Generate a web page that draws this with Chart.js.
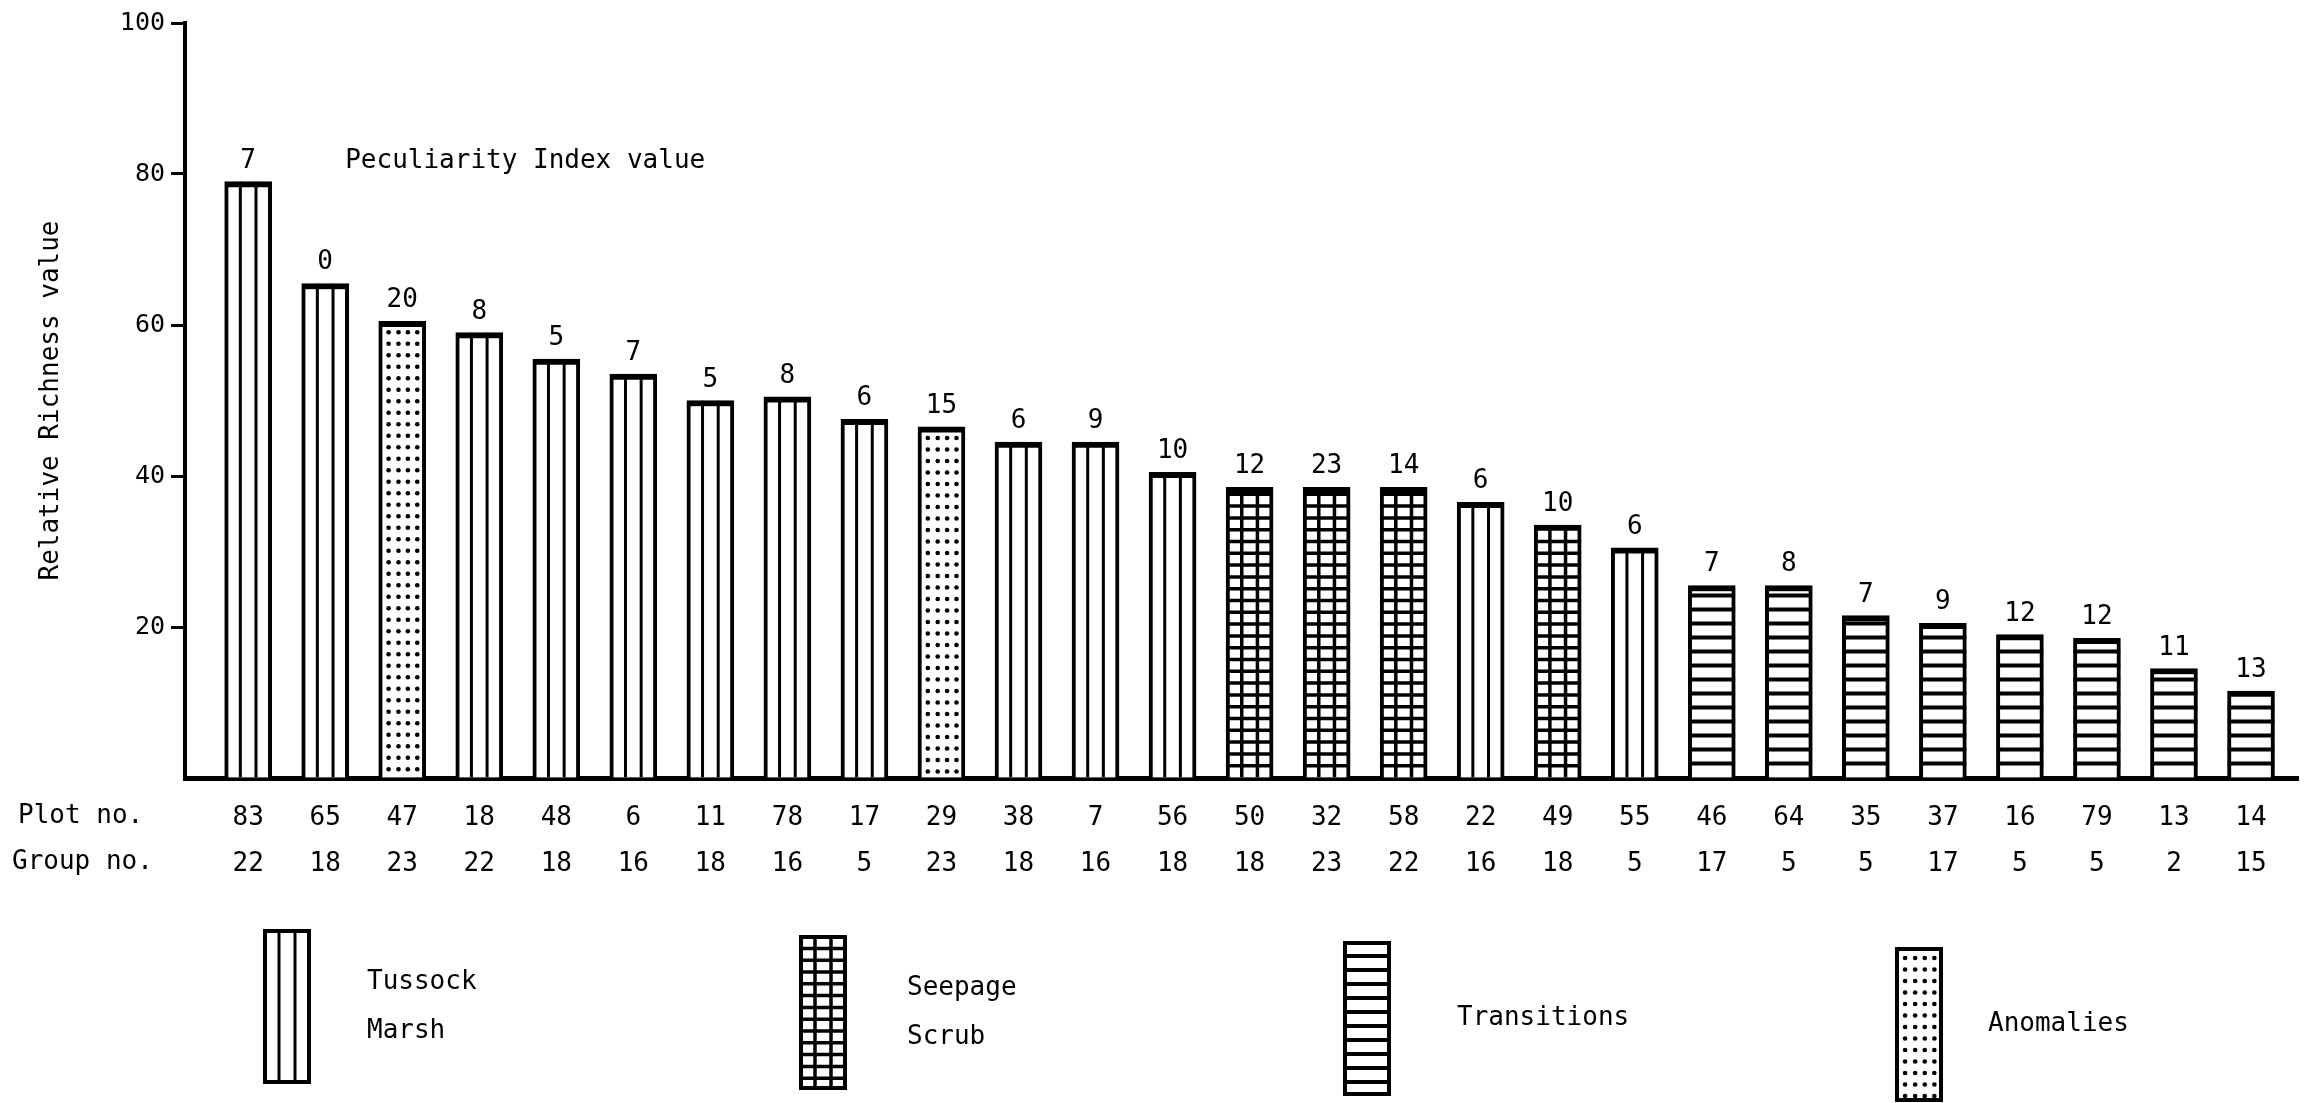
<!DOCTYPE html>
<html>
<head>
<meta charset="utf-8">
<style>
  html, body { margin: 0; padding: 0; background: #ffffff; }
  canvas { display: block; }
</style>
<script src="https://cdn.jsdelivr.net/npm/chart.js@4.4.1/dist/chart.umd.min.js"></script>
</head>
<body>
<canvas id="c" width="2319" height="1103" style="width:2319px;height:1103px"></canvas>
<script>
// ---------------- data ----------------
const plotNos   = [83, 65, 47, 18, 48, 6, 11, 78, 17, 29, 38, 7, 56, 50, 32, 58, 22, 49, 55, 46, 64, 35, 37, 16, 79, 13, 14];
const groupNos  = [22, 18, 23, 22, 18, 16, 18, 16, 5, 23, 18, 16, 18, 18, 23, 22, 16, 18, 5, 17, 5, 5, 17, 5, 5, 2, 15];
const richness  = [79, 65.5, 60.5, 59, 55.5, 53.5, 50, 50.5, 47.5, 46.5, 44.5, 44.5, 40.5, 38.5, 38.5, 38.5, 36.5, 33.5, 30.5, 25.5, 25.5, 21.5, 20.5, 19, 18.5, 14.5, 11.5];
const peculiarity = [7, 0, 20, 8, 5, 7, 5, 8, 6, 15, 6, 9, 10, 12, 23, 14, 6, 10, 6, 7, 8, 7, 9, 12, 12, 11, 13];
const vegType = ['tussock','tussock','anomaly','tussock','tussock','tussock','tussock','tussock','tussock','anomaly',
                 'tussock','tussock','tussock','seepage','seepage','seepage','tussock','seepage','tussock',
                 'transition','transition','transition','transition','transition','transition','transition','transition'];
const yTickValues = [0, 20, 40, 60, 80, 100];
const legendTypes = ['tussock', 'seepage', 'transition', 'anomaly'];
const legendNames = [['Tussock', 'Marsh'], ['Seepage', 'Scrub'], ['Transitions'], ['Anomalies']];
const yTitle = 'Relative Richness value';
const annotationText = 'Peculiarity Index value';
const rowHeaders = ['Plot no.', 'Group no.'];

// ---------------- style ----------------
const INK = '#000000';
const FONT = '"DejaVu Sans Mono", "Liberation Mono", monospace';

function drawFill(ctx, type, x0, x1, top, bottom) {
  const w = x1 - x0;
  ctx.save();
  ctx.beginPath();
  ctx.rect(x0, top, w, bottom - top);
  ctx.clip();
  ctx.strokeStyle = INK;
  ctx.fillStyle = INK;
  if (type === 'tussock' || type === 'seepage') {
    ctx.lineWidth = type === 'seepage' ? 3.5 : 3;
    [1 / 3, 2 / 3].forEach(f => {
      const x = x0 + w * f;
      ctx.beginPath(); ctx.moveTo(x, top); ctx.lineTo(x, bottom); ctx.stroke();
    });
  }
  if (type === 'seepage' || type === 'transition') {
    const step = type === 'seepage' ? 11.8 : 14;
    ctx.lineWidth = type === 'seepage' ? 3.5 : 4;
    for (let y = bottom - step; y > top + 5; y -= step) {
      ctx.beginPath(); ctx.moveTo(x0, y); ctx.lineTo(x1, y); ctx.stroke();
    }
  }
  if (type === 'anomaly') {
    const cols = [0.21, 0.42, 0.62, 0.82];
    for (let y = top + 11; y < bottom - 3; y += 11.5) {
      cols.forEach(f => {
        ctx.beginPath(); ctx.arc(x0 + w * f, y, 2.3, 0, Math.PI * 2); ctx.fill();
      });
    }
  }
  ctx.restore();
}

const hatchPlugin = {
  id: 'hatch',
  afterDatasetsDraw(chart) {
    const ctx = chart.ctx;
    const meta = chart.getDatasetMeta(0);
    meta.data.forEach((el, i) => {
      const p = el.getProps(['x', 'y', 'base', 'width'], true);
      drawFill(ctx, vegType[i], p.x - p.width / 2, p.x + p.width / 2, p.y, p.base);
    });
    // peculiarity index labels
    ctx.save();
    ctx.fillStyle = INK;
    ctx.font = '26px ' + FONT;
    ctx.textAlign = 'center';
    ctx.textBaseline = 'alphabetic';
    meta.data.forEach((el, i) => {
      ctx.fillText(String(peculiarity[i]), el.x, el.y - 14);
    });
    ctx.textAlign = 'left';
    const first = meta.data[0];
    ctx.fillText(annotationText, first.x + 97, first.y - 14);
    ctx.restore();
  }
};

const extrasPlugin = {
  id: 'extras',
  afterDraw(chart) {
    const ctx = chart.ctx;
    const xs = chart.scales.x;
    ctx.save();
    ctx.fillStyle = INK;
    ctx.font = '26px ' + FONT;
    ctx.textAlign = 'left';
    ctx.textBaseline = 'middle';
    const row1 = xs.top + 38;
    ctx.fillText(rowHeaders[0], 18, row1);
    ctx.fillText(rowHeaders[1], 12, row1 + 46);

    // legend
    const swX = [263, 799, 1343, 1895];
    const swTop = [929, 935, 941, 947];
    const swW = 48, swH = 155;
    const txtX = [367, 907, 1457, 1988];
    legendTypes.forEach((t, k) => {
      const x0 = swX[k], y0 = swTop[k];
      ctx.fillStyle = '#ffffff';
      ctx.fillRect(x0, y0, swW, swH);
      drawFill(ctx, t, x0, x0 + swW, y0, y0 + swH);
      ctx.strokeStyle = INK;
      ctx.lineWidth = 4;
      ctx.strokeRect(x0 + 2, y0 + 2, swW - 4, swH - 4);
      ctx.fillStyle = INK;
      const lines = legendNames[k];
      const mid = y0 + swH / 2;
      const lh = 49;
      lines.forEach((ln, j) => {
        const yy = mid + (j - (lines.length - 1) / 2) * lh;
        ctx.fillText(ln, txtX[k], yy);
      });
    });
    ctx.restore();
  }
};

new Chart(document.getElementById('c'), {
  type: 'bar',
  data: {
    datasets: [{
      data: richness.map((v, i) => ({ x: i, y: v })),
      backgroundColor: '#ffffff',
      borderColor: INK,
      borderWidth: { top: 6, left: 4, right: 4, bottom: 0 },
      borderSkipped: 'bottom',
      barThickness: 47
    }]
  },
  options: {
    responsive: false,
    devicePixelRatio: 1,
    animation: false,
    layout: { padding: { left: 0, right: 21, top: 23, bottom: 0 } },
    plugins: { legend: { display: false }, tooltip: { enabled: false } },
    scales: {
      x: {
        type: 'linear',
        offset: false,
        min: -0.82,
        max: 26.61,
        afterBuildTicks: s => { s.ticks = plotNos.map((_, i) => ({ value: i })); },
        afterFit: s => { s.height = 325; },
        grid: { display: true, offset: false, drawOnChartArea: false, drawTicks: false, color: 'rgba(0,0,0,0)' },
        border: { display: true, color: INK, width: 5 },
        ticks: {
          autoSkip: false,
          maxRotation: 0,
          padding: 17,
          color: INK,
          font: { family: FONT, size: 26, lineHeight: 46 / 26 },
          callback: v => {
            const i = Math.round(v);
            return [String(plotNos[i]), String(groupNos[i])];
          }
        }
      },
      y: {
        min: 0,
        max: 100,
        afterBuildTicks: s => { s.ticks = yTickValues.map(v => ({ value: v })); },
        afterFit: s => { s.width = 185; },
        grid: {
          display: true, drawOnChartArea: false, drawTicks: true, tickLength: 14, tickWidth: 3,
          color: 'rgba(0,0,0,0)',
          tickColor: c => (c.tick && c.tick.value === 0) ? 'rgba(0,0,0,0)' : INK
        },
        border: { display: true, color: INK, width: 4 },
        ticks: {
          padding: 6,
          color: INK,
          font: { family: FONT, size: 25 },
          callback: v => (v === 0 ? '' : String(v))
        },
        title: {
          display: true,
          text: yTitle,
          color: INK,
          font: { family: FONT, size: 26 },
          padding: { top: 36, bottom: 0 }
        }
      }
    }
  },
  plugins: [hatchPlugin, extrasPlugin]
});
</script>
</body>
</html>
